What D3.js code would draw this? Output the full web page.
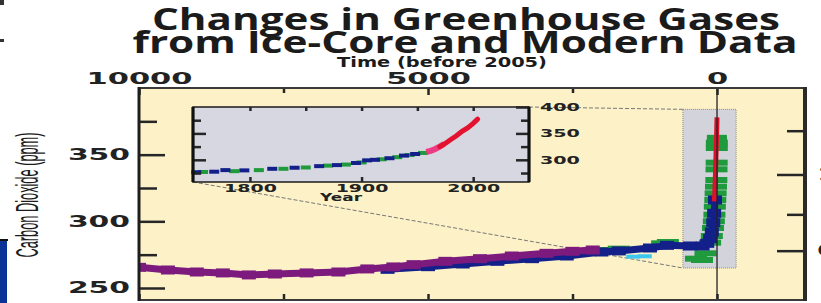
<!DOCTYPE html>
<html>
<head>
<meta charset="utf-8">
<script src="https://cdn.jsdelivr.net/npm/d3@7"></script>
<style>
  body { margin: 0; background: #fff; overflow: hidden; }
  svg { display: block; }
</style>
</head>
<body>
<svg id="chart" width="821" height="303"></svg>
<script>
// tick labels
var timeTicks = [10000, 5000, 0];          // years before 2005
var timeMinor = [7500, 2500];
var co2Ticks = [250, 300, 350];            // ppm
var co2Minor = [275, 325, 375];
var forcingTicks = [0, 1];                 // right axis, W m-2 (labels fall off the edge)
var forcingMinor = [0.5, 1.5];
var insetYearTicks = [1800, 1900, 2000];
var insetYearMinor = [1800, 1850, 1900, 1950, 2000];
var insetCo2Ticks = [300, 350, 400];
var insetCo2Minor = [275, 325, 375];

// ice core records, years before 2005 / ppm
var purpleBP  = [10000, 9500, 9000, 8550, 8100, 7650, 7100, 6550, 6050, 5600, 5250, 4700, 4100, 3550, 2950, 2500, 2150];
var purpleCO2 = [265.5, 263.5, 262, 261.3, 259.8, 260.5, 261.3, 262, 264.3, 265.8, 267.5, 270, 272, 274, 276, 277.5, 278.5];

var navyBP  = [5700, 5000, 4400, 3800, 3200, 2600, 2000, 1700, 1160, 865, 470, 250, 170, 120, 90, 65, 50, 35];
var navyCO2 = [264, 266, 268, 270, 272, 274, 277, 277.8, 280, 282, 281.5, 281.5, 283.5, 287, 292, 299, 306, 316];

var greenBP  = [2100, 1900, 1700, 950, 850, 364, 260, 200, 120, 90, 70, 55, 45, 38, 30, 24, 18, 12, 9, 6, 4, 3];
var greenCO2 = [278, 278.5, 279.5, 283.5, 284.5, 272, 271, 276, 284, 289, 295, 300, 305, 311, 316, 321, 326, 331, 339, 344, 355, 359];
var greenTopBP  = [2, 1];
var greenTopCO2 = [363, 361];

var cyanBP  = [1450, 1250];
var cyanCO2 = [273.5, 273.8];

// atmospheric measurements
var redYear = [1958, 1965, 1970, 1975, 1980, 1985, 1990, 1995, 2000, 2005];
var redCO2  = [315, 320, 325.5, 331, 338.5, 345.5, 354, 360.5, 369, 378];

// inset, calendar years
var insetNavyYear = [1752, 1768, 1778, 1795, 1820, 1840, 1862, 1878, 1895, 1905, 1912, 1925, 1938, 1948];
var insetNavyCO2  = [276.5, 277.5, 280.5, 280, 283, 285, 288, 290, 294, 299, 300, 303, 308, 311];
var insetGreenYear = [1758, 1786, 1808, 1830, 1850, 1870, 1886, 1900, 1918, 1932, 1943, 1955];
var insetGreenCO2  = [277, 278.5, 280.5, 283, 285.5, 289, 291, 295, 301, 305, 309, 313];
var insetPinkYear = [1958, 1962, 1966, 1970, 1974];
var insetPinkCO2  = [315, 317, 320.5, 325, 330];
var insetRedYear = [1970, 1975, 1980, 1985, 1990, 1995, 2000, 2004];
var insetRedCO2  = [325, 331, 338.5, 345.5, 354, 360.5, 369, 377];

// area of the main plot shown enlarged in the inset
var boxBP = [590, -330];
var boxCO2 = [265, 384];

var svg = d3.select('#chart');
var bold = '"DejaVu Sans", sans-serif';

var x = d3.scaleLinear().domain([10000, -1522]).range([139, 805]);
var y = d3.scaleLinear().domain([241, 400]).range([300, 88]);
var ix = d3.scaleLinear().domain([1749, 2050]).range([193, 529]);
var iy = d3.scaleLinear().domain([258, 400]).range([182, 107]);

var toCO2 = function (f) { return 278 * Math.exp(f / 5.35); };
var toForcing = function (c) { return 5.35 * Math.log(c / 278); };

svg.append('defs').append('clipPath').attr('id', 'plotClip')
   .append('rect')
   .attr('x', x(10000)).attr('y', y(400))
   .attr('width', x(-1522) - x(10000)).attr('height', y(241) - y(400));

// page decorations
svg.append('rect').attr('x', 0).attr('y', 240).attr('width', 7).attr('height', 63).attr('fill', '#0b3397');
svg.append('rect').attr('x', 0).attr('y', 239).attr('width', 8).attr('height', 2).attr('fill', '#111');
svg.append('rect').attr('x', 0).attr('y', 0).attr('width', 4).attr('height', 5).attr('fill', '#333');
svg.append('rect').attr('x', 0).attr('y', 39).attr('width', 4).attr('height', 3).attr('fill', '#333');

// title
function title(txt, cx, base, len, size, fam) {
  svg.append('text')
     .attr('x', cx).attr('y', base)
     .attr('text-anchor', 'middle')
     .attr('font-family', fam)
     .attr('font-weight', 'bold')
     .attr('font-size', size)
     .attr('fill', '#1b1b1b')
     .attr('textLength', len)
     .attr('lengthAdjust', 'spacingAndGlyphs')
     .text(txt);
}
title('Changes in Greenhouse Gases', 466, 30, 628, 30, '"Open Sans", sans-serif');
title('from Ice-Core and Modern Data', 465, 53, 665, 30, '"Open Sans", sans-serif');
title('Time (before 2005)', 442, 67, 210, 14, bold);

// y axis title, squashed and stretched like the original
svg.append('text')
   .attr('transform', 'translate(27,195) scale(2.4,1) rotate(-90)')
   .attr('text-anchor', 'middle')
   .attr('dy', '0.35em')
   .attr('font-family', '"Liberation Sans Narrow", "Liberation Sans", sans-serif')
   .attr('font-size', 13)
   .attr('fill', '#1b1b1b')
   .attr('textLength', 125)
   .attr('lengthAdjust', 'spacingAndGlyphs')
   .text('Carbon Dioxide (ppm)');

// plot background
svg.append('rect')
   .attr('x', x(10000)).attr('y', y(400))
   .attr('width', x(-1522) - x(10000)).attr('height', y(241) - y(400))
   .attr('fill', '#fdf2c7');

// zoom box
svg.append('rect')
   .attr('x', x(boxBP[0])).attr('y', y(boxCO2[1]))
   .attr('width', x(boxBP[1]) - x(boxBP[0])).attr('height', y(boxCO2[0]) - y(boxCO2[1]))
   .attr('fill', '#d3d3db').attr('stroke', '#8a8a8a').attr('stroke-dasharray', '1,1');

// connector lines, inset corners to the zoom box
var connectors = [
  [[ix(2050), iy(400)], [x(boxBP[0]), y(boxCO2[1])]],
  [[ix(1749), iy(258)], [x(boxBP[0]), y(boxCO2[0])]]
];
svg.selectAll('.conn').data(connectors).enter().append('line')
   .attr('x1', function (d) { return d[0][0]; }).attr('y1', function (d) { return d[0][1]; })
   .attr('x2', function (d) { return d[1][0]; }).attr('y2', function (d) { return d[1][1]; })
   .attr('stroke', '#777').attr('stroke-width', 1).attr('stroke-dasharray', '4,2');

// main series
var mainLine = d3.line().x(function (d) { return x(d[0]); }).y(function (d) { return y(d[1]); });

function bars(g, xs, ys, sx, sy, w, h, color) {
  g.selectAll(null).data(d3.zip(xs, ys)).enter().append('rect')
   .attr('x', function (d) { return sx(d[0]) - w / 2; })
   .attr('y', function (d) { return sy(d[1]) - h / 2; })
   .attr('width', w).attr('height', h)
   .attr('fill', color);
}

function band(g, xs, ys, color, w) {
  g.append('path').datum(d3.zip(xs, ys)).attr('d', mainLine)
   .attr('fill', 'none').attr('stroke', color).attr('stroke-width', w).attr('stroke-linejoin', 'round');
  bars(g, xs, ys, x, y, 14, w + 2, color);
}

var gm = svg.append('g').attr('clip-path', 'url(#plotClip)');
bars(gm, greenBP, greenCO2, x, y, 22, 6, '#1f9a3c');
bars(gm, greenTopBP, greenTopCO2, x, y, 20, 5, '#1f9a3c');
bars(gm, cyanBP, cyanCO2, x, y, 14, 4, '#3fc6ee');
band(gm, navyBP, navyCO2, '#13208a', 7);
band(gm, purpleBP, purpleCO2, '#7d1a7e', 7);
gm.append('path').datum(d3.zip(redYear.map(function (v) { return 2005 - v; }), redCO2)).attr('d', mainLine)
  .attr('fill', 'none').attr('stroke', '#e0102c').attr('stroke-width', 5);

// zero line
svg.append('line')
   .attr('x1', x(0)).attr('x2', x(0)).attr('y1', y(400)).attr('y2', y(241))
   .attr('stroke', '#222').attr('stroke-width', 1.3);

// axes
function axisStyle(g, size, digitW) {
  g.select('.domain').remove();
  g.attr('color', '#262626');
  g.selectAll('line').attr('stroke-width', 2.5);
  g.selectAll('text')
   .attr('font-family', bold).attr('font-weight', 'bold').attr('font-size', size)
   .attr('fill', '#222')
   .attr('textLength', function () { return this.textContent.length * digitW; })
   .attr('lengthAdjust', 'spacingAndGlyphs');
}

svg.append('g').attr('transform', 'translate(0,' + y(400) + ')')
   .call(d3.axisTop(x).tickValues(timeTicks).tickSize(-7).tickPadding(4).tickFormat(d3.format('d')))
   .call(axisStyle, 15, 21.2);
svg.append('g').attr('transform', 'translate(0,' + y(400) + ')')
   .call(d3.axisTop(x).tickValues(timeMinor).tickSize(-5).tickFormat(''))
   .call(axisStyle, 15, 21);
svg.append('g').attr('transform', 'translate(0,' + y(241) + ')')
   .call(d3.axisBottom(x).tickValues(timeTicks.concat(timeMinor)).tickSize(-6).tickFormat(''))
   .call(axisStyle, 15, 21);

svg.append('g').attr('transform', 'translate(' + x(10000) + ',0)')
   .call(d3.axisLeft(y).tickValues(co2Ticks).tickSize(-26).tickPadding(9))
   .call(axisStyle, 15, 20.7);
svg.append('g').attr('transform', 'translate(' + x(10000) + ',0)')
   .call(d3.axisLeft(y).tickValues(co2Minor).tickSize(-18).tickFormat(''))
   .call(axisStyle, 15, 20.7);

svg.append('g').attr('transform', 'translate(' + x(-1522) + ',0)')
   .call(d3.axisRight(y).tickValues(forcingTicks.map(toCO2)).tickSize(-28).tickPadding(12)
         .tickFormat(function (c) { return d3.format('.0f')(toForcing(c)); }))
   .call(axisStyle, 15, 20.7);
svg.append('g').attr('transform', 'translate(' + x(-1522) + ',0)')
   .call(d3.axisRight(y).tickValues(forcingMinor.map(toCO2)).tickSize(-18).tickFormat(''))
   .call(axisStyle, 15, 20.7);

// main frame
svg.append('line').attr('x1', x(10000)).attr('x2', x(-1522)).attr('y1', y(400)).attr('y2', y(400))
   .attr('stroke', '#3a3a3a').attr('stroke-width', 2);
svg.append('line').attr('x1', x(10000)).attr('x2', x(-1522)).attr('y1', y(241)).attr('y2', y(241))
   .attr('stroke', '#3a3a3a').attr('stroke-width', 2);
svg.append('line').attr('x1', x(10000)).attr('x2', x(10000)).attr('y1', y(400) - 1).attr('y2', y(241) + 1)
   .attr('stroke', '#1e1e1e').attr('stroke-width', 3);
svg.append('line').attr('x1', x(-1522)).attr('x2', x(-1522)).attr('y1', y(400) - 1).attr('y2', y(241) + 1)
   .attr('stroke', '#2a2a2a').attr('stroke-width', 4);

// inset
var gi = svg.append('g');
gi.append('rect')
  .attr('x', ix(1749)).attr('y', iy(400))
  .attr('width', ix(2050) - ix(1749)).attr('height', iy(258) - iy(400))
  .attr('fill', '#d7d7e1');

var insetLine = d3.line().x(function (d) { return ix(d[0]); }).y(function (d) { return iy(d[1]); });
bars(gi, insetGreenYear, insetGreenCO2, ix, iy, 10, 4, '#1f9a3c');
bars(gi, insetNavyYear, insetNavyCO2, ix, iy, 10, 4, '#13208a');
gi.append('path').datum(d3.zip(insetPinkYear, insetPinkCO2)).attr('d', insetLine)
  .attr('fill', 'none').attr('stroke', '#ee3a84').attr('stroke-width', 6);
gi.append('path').datum(d3.zip(insetRedYear, insetRedCO2)).attr('d', insetLine)
  .attr('fill', 'none').attr('stroke', '#e3122e').attr('stroke-width', 5).attr('stroke-linecap', 'round');

gi.append('g').attr('transform', 'translate(0,' + iy(258) + ')')
  .call(d3.axisBottom(ix).tickValues(insetYearTicks).tickSize(-5).tickPadding(2).tickFormat(d3.format('d')))
  .call(axisStyle, 11, 13.2);
gi.append('g').attr('transform', 'translate(0,' + iy(400) + ')')
  .call(d3.axisTop(ix).tickValues(insetYearMinor).tickSize(-4).tickFormat(''))
  .call(axisStyle, 11, 13.2);
gi.append('g').attr('transform', 'translate(' + ix(1749) + ',0)')
  .call(d3.axisLeft(iy).tickValues(insetCo2Ticks.slice(0, 2)).tickSize(-13).tickFormat(''))
  .call(axisStyle, 11, 13.3);
gi.append('g').attr('transform', 'translate(' + ix(1749) + ',0)')
  .call(d3.axisLeft(iy).tickValues(insetCo2Minor).tickSize(-8).tickFormat(''))
  .call(axisStyle, 11, 13.3);
gi.append('g').attr('transform', 'translate(' + ix(2050) + ',0)')
  .call(d3.axisRight(iy).tickValues(insetCo2Ticks).tickSize(-13).tickPadding(11))
  .call(axisStyle, 11, 13.3);
gi.append('g').attr('transform', 'translate(' + ix(2050) + ',0)')
  .call(d3.axisRight(iy).tickValues(insetCo2Minor).tickSize(-8).tickFormat(''))
  .call(axisStyle, 11, 13.3);

gi.append('text')
  .attr('x', 341).attr('y', 201)
  .attr('text-anchor', 'middle')
  .attr('font-family', bold).attr('font-weight', 'bold').attr('font-size', 10)
  .attr('fill', '#222')
  .attr('textLength', 42).attr('lengthAdjust', 'spacingAndGlyphs')
  .text('Year');

// inset frame
gi.append('rect')
  .attr('x', ix(1749)).attr('y', iy(400))
  .attr('width', ix(2050) - ix(1749)).attr('height', iy(258) - iy(400))
  .attr('fill', 'none').attr('stroke', '#262626').attr('stroke-width', 1.6);
[1749, 2050].forEach(function (v) {
  gi.append('line').attr('x1', ix(v)).attr('x2', ix(v)).attr('y1', iy(400)).attr('y2', iy(258))
    .attr('stroke', '#111').attr('stroke-width', 3.2);
});
</script>
</body>
</html>
